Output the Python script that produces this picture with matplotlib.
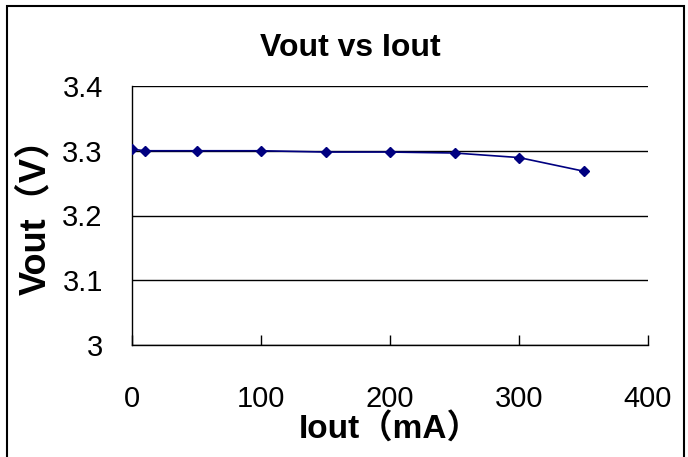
import matplotlib
matplotlib.use('Agg')
import matplotlib.pyplot as plt
from matplotlib.patches import Rectangle
from matplotlib.ticker import FuncFormatter

plt.rcParams['font.family'] = ['Liberation Sans', 'Noto Sans CJK SC', 'DejaVu Sans']

iout = [0, 10, 50, 100, 150, 200, 250, 300, 350]
vout = [3.3025, 3.300, 3.300, 3.300, 3.298, 3.298, 3.2965, 3.2895, 3.2685]
xticks = [0, 100, 200, 300, 400]
yticks = [3.0, 3.1, 3.2, 3.3, 3.4]

fig = plt.figure(figsize=(6.88, 4.57), dpi=100)
ax = fig.add_axes([132/688, 1 - 345/457, 516/688, 259/457])

ax.plot(iout, vout, color='#000080', lw=1.2, marker='D', ms=5.5,
	markerfacecolor='#000080', markeredgecolor='#000080', zorder=3)

ax.set_xlim(0, 400)
ax.set_ylim(3.0, 3.4)
ax.set_xticks(xticks)
ax.set_yticks(yticks)
ax.yaxis.set_major_formatter(FuncFormatter(lambda v, p: '%g' % round(v, 1)))

ax.grid(axis='y', color='black', lw=1)
ax.set_axisbelow(True)
for s in ['top', 'right']:
	ax.spines[s].set_visible(False)
for s in ['left', 'bottom']:
	ax.spines[s].set_color('black')
	ax.spines[s].set_linewidth(1)

ax.tick_params(axis='x', direction='in', length=7, width=1, pad=29, labelsize=21)
ax.tick_params(axis='y', length=0, pad=21, labelsize=21)

# title is centred on the chart frame, not the plot area
fig.text(350/688, 1 - 48/457, 'Vout vs Iout', fontsize=23, fontweight='bold',
	ha='center', va='center')
ax.set_xlabel('Iout（mA）', fontsize=24, fontweight='bold', va='top')
ax.xaxis.set_label_coords(0.50, -0.262)
ax.set_ylabel('Vout（V）', fontsize=26, fontweight='bold', va='center')
ax.yaxis.set_label_coords(-0.186, 0.53)

# outer chart frame
fig.patches.append(Rectangle((7/688, -0.05), 677/688, 1.05 - 6/457,
	transform=fig.transFigure, fill=False, edgecolor='black', lw=1.5))

fig.savefig('out.png', dpi=100)
